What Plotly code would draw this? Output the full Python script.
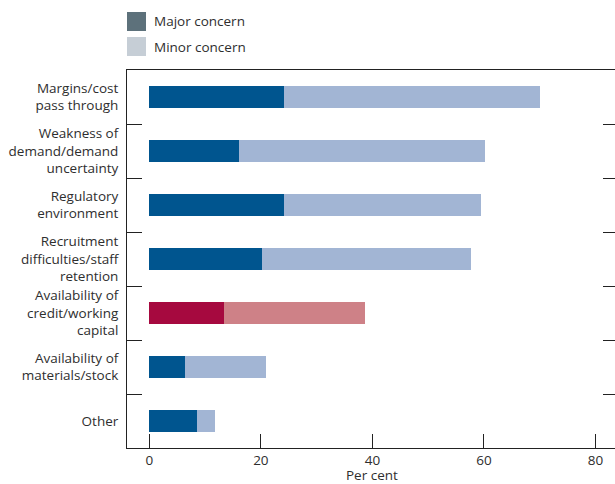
import plotly.graph_objects as go

categories = [
    "Margins/cost<br>pass through",
    "Weakness of<br>demand/demand<br>uncertainty",
    "Regulatory<br>environment",
    "Recruitment<br>difficulties/staff<br>retention",
    "Availability of<br>credit/working<br>capital",
    "Availability of<br>materials/stock",
    "Other",
]
major = [24.2, 16.0, 24.2, 20.2, 13.4, 6.4, 8.6]
minor = [45.9, 44.2, 35.3, 37.5, 25.3, 14.6, 3.2]
x_ticks = [0, 20, 40, 60, 80]

major_colors = ["#00558f"] * 7
minor_colors = ["#a2b5d4"] * 7
major_colors[4] = "#a6093f"
minor_colors[4] = "#ce8187"

pos = list(range(len(categories)))
font = "Open Sans"
fs = 13.5

fig = go.Figure()
fig.add_trace(go.Bar(y=pos, x=major, orientation="h", marker=dict(color=major_colors, line_width=0),
                     width=0.39, showlegend=False, name="Major concern"))
fig.add_trace(go.Bar(y=pos, x=minor, orientation="h", marker=dict(color=minor_colors, line_width=0),
                     width=0.39, showlegend=False, name="Minor concern"))
bounds = [p + 0.5 for p in pos[:-1]]

fig.update_layout(
    barmode="stack",
    width=615, height=484,
    margin=dict(l=127, r=0, t=70, b=36),
    plot_bgcolor="white", paper_bgcolor="white",
    font=dict(family=font, size=fs, color="#2e2e2e"),
    xaxis=dict(range=[-4, 83.5], tickvals=x_ticks, ticks="inside", ticklen=14, tickcolor="#222",
               tickwidth=1, showline=True, linecolor="#222", linewidth=1, mirror=True,
               showgrid=False, zeroline=False, tickfont=dict(size=fs)),
    yaxis=dict(range=[6.5, -0.5], tickvals=pos, ticktext=categories, ticks="", showline=True,
               linecolor="#222", linewidth=1, showgrid=False, zeroline=False, ticklabelstandoff=5),
    yaxis2=dict(range=[6.5, -0.5], overlaying="y", side="left", tickvals=bounds, ticks="inside",
                ticklen=15, tickcolor="#222", showticklabels=False, showgrid=False, zeroline=False,
                showline=False),
    yaxis3=dict(range=[6.5, -0.5], overlaying="y", side="right", tickvals=bounds, ticks="inside",
                ticklen=12, tickcolor="#222", showticklabels=False, showgrid=False, zeroline=False,
                showline=False),
)
fig.add_trace(go.Scatter(x=[None], y=[None], yaxis="y2", showlegend=False, hoverinfo="skip"))
fig.add_trace(go.Scatter(x=[None], y=[None], yaxis="y3", showlegend=False, hoverinfo="skip"))

# axis title
fig.add_annotation(text="Per cent", xref="x", yref="paper", x=40, y=-(475 - 448) / 378,
                   xanchor="center", yanchor="middle", showarrow=False, font=dict(size=fs, color="#2e2e2e"))

# legend
legend_items = [("Major concern", "#5d717b"), ("Minor concern", "#c6ced6")]
for i, (txt, col) in enumerate(legend_items):
    y0 = 12 + i * 25
    fig.add_shape(type="rect", xref="paper", yref="paper",
                  x0=0, x1=19 / 488, y0=1 + (70 - y0) / 378, y1=1 + (70 - y0 - 19) / 378,
                  fillcolor=col, line_width=0)
    fig.add_annotation(text=txt, xref="paper", yref="paper", x=25 / 488, y=1 + (70 - y0 - 9.5) / 378,
                       xanchor="left", yanchor="middle", showarrow=False, font=dict(size=fs, color="#2e2e2e"))

fig.write_html("out.html", config={"displayModeBar": False},
               post_script="document.body.style.margin='0';")
